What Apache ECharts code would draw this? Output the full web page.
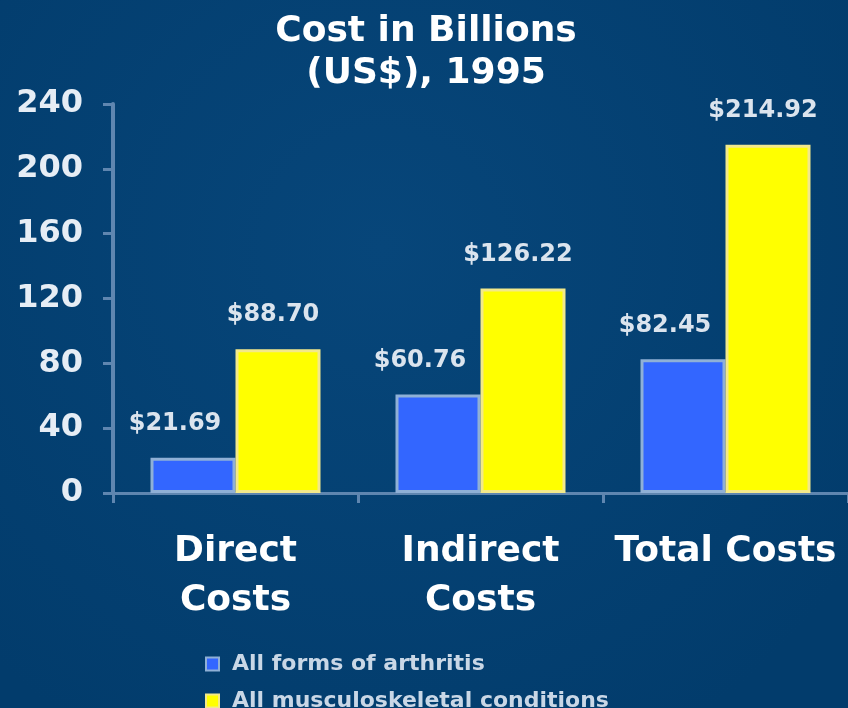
<!DOCTYPE html>
<html>
<head>
<meta charset="utf-8">
<script src="https://cdn.jsdelivr.net/npm/echarts@6/dist/echarts.min.js"></script>
<style>
  html, body { margin: 0; padding: 0; background: #033f70; }
  #chart { width: 848px; height: 708px; }
</style>
</head>
<body>
<div id="chart"></div>
<script>
// Cost in Billions (US$), 1995
var categories = ['Direct\nCosts', 'Indirect\nCosts', 'Total Costs'];
var seriesNames = ['All forms of arthritis', 'All musculoskeletal conditions'];
var arthritis = [21.69, 60.76, 82.45];
var musculoskeletal = [88.70, 126.22, 214.92];
var yTicks = [0, 40, 80, 120, 160, 200, 240];

(function() {
  var font = 'DejaVu Sans';
  var axisCol = '#5f86b0';
  var chart = echarts.init(document.getElementById('chart'), null, { renderer: 'canvas' });

  function money(p) { return '$' + p.value.toFixed(2); }

  var legendText = { color: '#c9d7e6', fontSize: 22, fontWeight: 'bold', fontFamily: font, padding: [0, 0, 0, 8] };

  chart.setOption({
    animation: false,
    backgroundColor: {
      type: 'radial', x: 0.45, y: 0.35, r: 0.8,
      colorStops: [{ offset: 0, color: '#07467a' }, { offset: 1, color: '#023c6c' }]
    },
    textStyle: { fontFamily: font },
    title: {
      text: 'Cost in Billions\n(US$), 1995',
      left: 421, top: 6, textAlign: 'center',
      textStyle: { color: '#ffffff', fontSize: 36, fontWeight: 'bold', lineHeight: 42, fontFamily: font }
    },
    legend: [
      {
        left: 200, top: 648, itemWidth: 13, itemHeight: 13, icon: 'rect',
        data: [seriesNames[0]], textStyle: legendText
      },
      {
        left: 200, top: 685, itemWidth: 13, itemHeight: 13, icon: 'rect',
        data: [seriesNames[1]], textStyle: legendText
      }
    ],
    grid: { left: 113, right: 0, top: 104, bottom: 215 },
    xAxis: {
      type: 'category',
      data: categories,
      axisLine: { lineStyle: { color: axisCol, width: 3 } },
      axisTick: { show: true, interval: 0, length: 10, lineStyle: { color: axisCol, width: 3 } },
      axisLabel: { interval: 0, color: '#ffffff', fontSize: 36, fontWeight: 'bold', lineHeight: 49, margin: 34, fontFamily: font }
    },
    yAxis: {
      type: 'value',
      min: 0, max: 240, interval: 40,
      axisLine: { show: true, lineStyle: { color: axisCol, width: 4 } },
      axisTick: { show: true, length: 10, lineStyle: { color: axisCol, width: 3 } },
      axisLabel: {
        color: '#e6edf5', fontSize: 32, fontWeight: 'bold', margin: 30, fontFamily: font,
        formatter: function(v) { return yTicks.indexOf(v) >= 0 ? String(v) : ''; }
      },
      splitLine: { show: false }
    },
    series: [
      {
        name: seriesNames[0],
        type: 'bar',
        barWidth: 85,
        barGap: '0%',
        data: arthritis,
        itemStyle: { color: '#3366ff', borderColor: '#8fb0d6', borderWidth: 3 },
        label: {
          show: true, position: 'top', distance: 22, offset: [-18, 0],
          formatter: money,
          color: '#dbe4ee', fontSize: 24, fontWeight: 'bold', fontFamily: font
        }
      },
      {
        name: seriesNames[1],
        type: 'bar',
        barWidth: 85,
        data: musculoskeletal,
        itemStyle: { color: '#ffff00', borderColor: '#f3e98a', borderWidth: 3 },
        label: {
          show: true, position: 'top', distance: 22, offset: [-5, 0],
          formatter: money,
          color: '#dbe4ee', fontSize: 24, fontWeight: 'bold', fontFamily: font
        }
      }
    ]
  });
  window.addEventListener('resize', function() { chart.resize(); });
})();
</script>
</body>
</html>
